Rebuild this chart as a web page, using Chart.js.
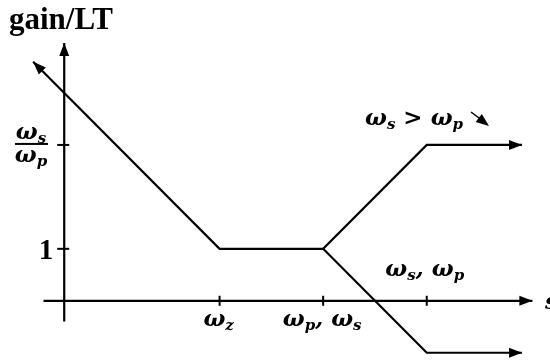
<!DOCTYPE html>
<html>
<head>
<meta charset="utf-8">
<script src="https://cdn.jsdelivr.net/npm/chart.js@4"></script>
<style>
  html, body { margin: 0; padding: 0; background: #fff; }
  #wrap { width: 550px; height: 360px; }
</style>
</head>
<body>
<div id="wrap"><canvas id="gain"></canvas></div>
<script>
// break frequencies on the s axis and gain levels on the vertical axis
const xTicks = [1.5, 2.5, 3.5];
const xTickLabels = ["ω_z", "ω_p, ω_s", ""];
const yTicks = [1, 3];

// asymptotic gain segments
const lowX = [-0.3, 1.5, 2.5];
const lowY = [4.6, 1, 1];
const upperX = [2.5, 3.5, 4.42];
const upperY = [1, 3, 3];
const lowerX = [2.5, 3.5, 4.42];
const lowerY = [1, -1, -1];

// axis extents
const sAxisX = [-0.2, 4.52];
const gainAxisY = [-0.4, 4.96];

const pts = (xs, ys) => xs.map((x, i) => ({ x, y: ys[i] }));

const MATH = "bold italic 23px 'DejaVu Serif'";
const SUB = "bold italic 15px 'DejaVu Serif'";

// draws strings like "ω_s, ω_p": a char after "_" is set as a subscript
function drawMath(ctx, str, x, y, align) {
  const parts = [];
  for (let i = 0; i < str.length; i++) {
    if (str[i] === "_") { parts.push([str[i + 1], true]); i++; }
    else parts.push([str[i], false]);
  }
  let w = 0;
  parts.forEach(p => { ctx.font = p[1] ? SUB : MATH; w += ctx.measureText(p[0]).width; });
  let cx = align === "center" ? x - w / 2 : (align === "right" ? x - w : x);
  ctx.textAlign = "left";
  ctx.textBaseline = "alphabetic";
  parts.forEach(p => {
    ctx.font = p[1] ? SUB : MATH;
    ctx.fillText(p[0], cx, p[1] ? y + 4 : y);
    cx += ctx.measureText(p[0]).width;
  });
}

function arrowHead(ctx, x0, y0, x1, y1) {
  const a = Math.atan2(y1 - y0, x1 - x0);
  const len = 13, half = 5;
  ctx.beginPath();
  ctx.moveTo(x1, y1);
  ctx.lineTo(x1 - len * Math.cos(a) + half * Math.sin(a), y1 - len * Math.sin(a) - half * Math.cos(a));
  ctx.lineTo(x1 - len * Math.cos(a) - half * Math.sin(a), y1 - len * Math.sin(a) + half * Math.cos(a));
  ctx.closePath();
  ctx.fill();
}

const decorations = {
  id: "decorations",
  afterDatasetsDraw(chart) {
    const ctx = chart.ctx;
    const xs = chart.scales.x, ys = chart.scales.y;
    const px = v => xs.getPixelForValue(v), py = v => ys.getPixelForValue(v);
    ctx.save();
    ctx.fillStyle = "#000";
    ctx.strokeStyle = "#000";
    ctx.lineWidth = 2;

    // arrow heads at the end of every arrowed segment
    chart.data.datasets.forEach(ds => {
      if (!ds.arrow) return;
      const d = ds.data;
      const a = d[ds.arrow === "start" ? 1 : d.length - 2];
      const b = d[ds.arrow === "start" ? 0 : d.length - 1];
      arrowHead(ctx, px(a.x), py(a.y), px(b.x), py(b.y));
    });

    // tick marks
    xTicks.forEach(t => {
      ctx.beginPath(); ctx.moveTo(px(t), py(0) - 5); ctx.lineTo(px(t), py(0) + 5); ctx.stroke();
    });
    yTicks.forEach(t => {
      ctx.beginPath(); ctx.moveTo(px(0) - 7, py(t)); ctx.lineTo(px(0) + 5, py(t)); ctx.stroke();
    });

    // axis labels
    ctx.font = "bold 31px 'Liberation Serif'";
    ctx.textAlign = "left";
    ctx.fillText("gain/LT", 9, 29);
    drawMath(ctx, "s", 545, py(0) + 8, "left");

    // tick labels
    xTickLabels.forEach((l, i) => { if (l) drawMath(ctx, l, px(xTicks[i]) - 1, py(0) + 25, "center"); });
    ctx.font = "bold 29px 'Liberation Serif'";
    ctx.textAlign = "right";
    ctx.fillText("1", px(0) - 11, py(yTicks[0]) + 10);

    // ω_s / ω_p as a stacked fraction
    const fy = py(yTicks[1]);
    drawMath(ctx, "ω_s", 31, fy - 6, "center");
    ctx.fillRect(15, fy - 2, 33, 2);
    drawMath(ctx, "ω_p", 31, fy + 17, "center");

    // branch annotations
    drawMath(ctx, "ω_s, ω_p", px(xTicks[2]) - 2, py(0) - 25, "center");
    drawMath(ctx, "ω_s > ω_p", 365, py(upperY[1]) - 20, "left");
    ctx.lineWidth = 1.5;
    ctx.beginPath(); ctx.moveTo(471, 112); ctx.lineTo(487, 124); ctx.stroke();
    arrowHead(ctx, 471, 112, 489, 126);

    ctx.restore();
  }
};

const lineStyle = { borderColor: "#000", borderWidth: 2.2, pointRadius: 0, fill: false, tension: 0 };

new Chart(document.getElementById("gain"), {
  type: "line",
  data: {
    datasets: [
      { ...lineStyle, data: [{ x: sAxisX[0], y: 0 }, { x: sAxisX[1], y: 0 }], arrow: "end" },
      { ...lineStyle, data: [{ x: 0, y: gainAxisY[0] }, { x: 0, y: gainAxisY[1] }], arrow: "end" },
      { ...lineStyle, data: pts(lowX, lowY), arrow: "start" },
      { ...lineStyle, data: pts(upperX, upperY), arrow: "end" },
      { ...lineStyle, data: pts(lowerX, lowerY), arrow: "end" }
    ]
  },
  options: {
    responsive: true,
    maintainAspectRatio: false,
    animation: false,
    layout: { padding: 0 },
    plugins: { legend: { display: false }, tooltip: { enabled: false } },
    scales: {
      x: { type: "linear", min: -0.62, max: 4.69, display: false },
      y: { type: "linear", min: -1.14, max: 5.79, display: false }
    }
  },
  plugins: [decorations]
});
</script>
</body>
</html>
